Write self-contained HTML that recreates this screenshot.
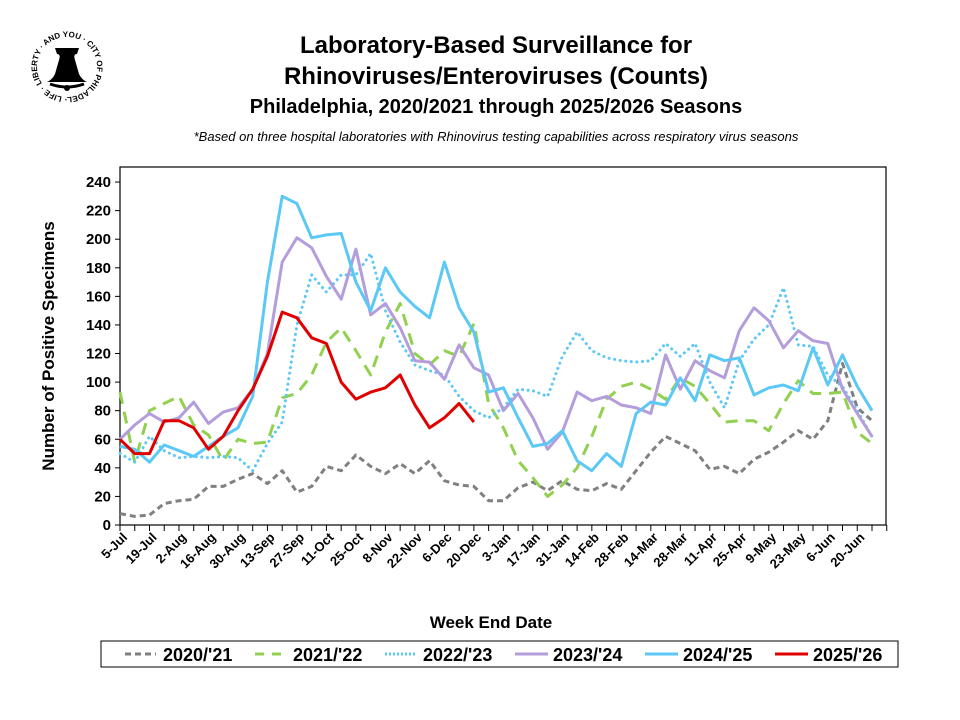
<!DOCTYPE html>
<html><head><meta charset="utf-8"><style>body{margin:0;background:#fff}svg{display:block}</style></head><body>
<svg width="960" height="720" viewBox="0 0 960 720" xmlns="http://www.w3.org/2000/svg" font-family="Liberation Sans, Arial, sans-serif">
<rect width="960" height="720" fill="#fff"/>
<!-- logo -->
<defs><path id="lc" d="M67,97 a30,30 0 1,1 0.1,0"/></defs>
<text font-size="8" font-weight="bold" fill="#000"><textPath href="#lc" startOffset="0">· LIFE · LIBERTY · AND YOU · CITY OF PHILADELPHIA</textPath></text>
<path d="M55,48 h24 l-2,6 q-4,0 -2,6 l4,14 q3,6 8,8 h-40 q5,-2 8,-8 l4,-14 q2,-6 -2,-6z" fill="#000"/>
<path d="M50,84 q17,6 34,0" stroke="#000" stroke-width="3" fill="none"/>
<circle cx="67" cy="88" r="3" fill="#000"/>
<!-- titles -->
<g font-weight="bold" text-anchor="middle" fill="#000">
<text x="496" y="53" font-size="24">Laboratory-Based Surveillance for</text>
<text x="496" y="84" font-size="24">Rhinoviruses/Enteroviruses (Counts)</text>
<text x="496" y="113" font-size="20">Philadelphia, 2020/2021 through 2025/2026 Seasons</text>
</g>
<text x="496" y="141" font-size="13" font-style="italic" text-anchor="middle">*Based on three hospital laboratories with Rhinovirus testing capabilities across respiratory virus seasons</text>
<!-- plot frame -->
<rect x="120" y="167" width="766" height="358" fill="none" stroke="#000" stroke-width="1.2"/>
<g id="yt" font-size="15" font-weight="bold" text-anchor="end"></g>
<g id="xt" font-size="13" font-weight="bold"></g>
<g id="series" fill="none" stroke-width="3" stroke-linejoin="round"></g>
<text x="0" y="0" transform="translate(54,346) rotate(-90)" font-size="17" font-weight="bold" text-anchor="middle">Number of Positive Specimens</text>
<text x="491" y="628" font-size="17" font-weight="bold" text-anchor="middle">Week End Date</text>
<!-- legend -->
<rect x="101" y="641" width="797" height="26" fill="#fff" stroke="#000" stroke-width="1"/>
<g font-size="18" font-weight="bold" stroke-width="3">
<line x1="125" y1="654" x2="156" y2="654" stroke="#808080" stroke-dasharray="6,4"/><text x="163" y="661">2020/'21</text>
<line x1="255" y1="654" x2="286" y2="654" stroke="#92d050" stroke-dasharray="9,8"/><text x="293" y="661">2021/'22</text>
<line x1="385" y1="654" x2="417" y2="654" stroke="#5bc8f5" stroke-dasharray="2,2"/><text x="423" y="661">2022/'23</text>
<line x1="515" y1="654" x2="548" y2="654" stroke="#b39ddb"/><text x="553" y="661">2023/'24</text>
<line x1="645" y1="654" x2="678" y2="654" stroke="#5bc8f5"/><text x="683" y="661">2024/'25</text>
<line x1="775" y1="654" x2="808" y2="654" stroke="#e00000"/><text x="813" y="661">2025/'26</text>
</g>
<script>
var ns="http://www.w3.org/2000/svg";
function X(i){return 120+i*14.745;}function Y(v){return 525-v*1.429;}
var yt=document.getElementById('yt');
for(var v=0;v<=240;v+=20){var t=document.createElementNS(ns,'text');t.setAttribute('x',111);t.setAttribute('y',Y(v)+5);t.textContent=v;yt.appendChild(t);
var l=document.createElementNS(ns,'line');l.setAttribute('x1',115);l.setAttribute('x2',120);l.setAttribute('y1',Y(v));l.setAttribute('y2',Y(v));l.setAttribute('stroke','#000');yt.appendChild(l);}
var labs=["5-Jul","19-Jul","2-Aug","16-Aug","30-Aug","13-Sep","27-Sep","11-Oct","25-Oct","8-Nov","22-Nov","6-Dec","20-Dec","3-Jan","17-Jan","31-Jan","14-Feb","28-Feb","14-Mar","28-Mar","11-Apr","25-Apr","9-May","23-May","6-Jun","20-Jun"];
var xt=document.getElementById('xt');
for(var i=0;i<=52;i++){var l=document.createElementNS(ns,'line');l.setAttribute('x1',X(i));l.setAttribute('x2',X(i));l.setAttribute('y1',525);l.setAttribute('y2',531);l.setAttribute('stroke','#000');xt.appendChild(l);}
labs.forEach(function(s,k){var x=X(2*k)+1,y=531;var t=document.createElementNS(ns,'text');t.setAttribute('text-anchor','end');t.setAttribute('transform','translate('+x+','+y+') rotate(-45)');t.setAttribute('x',0);t.setAttribute('y',10);t.textContent=s;xt.appendChild(t);});
var S=[
["#808080","6,4","butt",[8,6,7,15,17,18,27,27,32,36,29,38,23,27,41,38,49,41,36,43,36,45,31,28,27,17,17,26,30,24,31,25,24,29,25,38,51,62,57,52,39,41,36,46,51,58,66,60,73,113,82,73]],
["#92d050","12,8","butt",[93,44,80,85,90,70,63,45,60,57,58,89,92,105,128,138,122,105,135,155,120,112,122,118,141,85,68,45,33,20,28,40,62,88,97,100,95,88,103,97,85,72,73,73,66,85,101,92,92,93,65,57]],
["#5bc8f5","0.1,5.5","round",[50,44,62,52,47,48,47,48,47,38,57,72,140,175,163,175,175,190,150,128,112,108,105,90,80,75,82,95,94,90,118,135,122,117,115,114,115,127,118,127,100,82,115,130,140,166,126,125,105,97,80,62]],
["#b39ddb",null,"butt",[60,70,78,72,75,86,71,79,82,95,120,184,201,194,174,158,193,147,155,138,115,114,102,126,110,105,80,92,75,53,65,93,87,90,84,82,78,119,95,115,108,103,136,152,143,124,136,129,127,95,78,62]],
["#5bc8f5",null,"butt",[55,53,44,56,52,48,55,62,68,90,170,230,225,201,203,204,170,150,180,163,153,145,184,152,135,93,96,75,55,57,66,45,38,50,41,78,86,84,103,87,119,115,117,91,96,98,94,124,98,119,97,80]],
["#e00000",null,"butt",[60,50,50,73,73,68,53,62,80,95,118,149,145,131,127,100,88,93,96,105,84,68,75,85,72]]];
var g=document.getElementById('series');
S.forEach(function(s){var p=document.createElementNS(ns,'polyline');p.setAttribute('points',s[3].map(function(v,i){return X(i).toFixed(1)+','+Y(v).toFixed(1)}).join(' '));p.setAttribute('stroke',s[0]);if(s[1])p.setAttribute('stroke-dasharray',s[1]);p.setAttribute('stroke-linecap',s[2]);g.appendChild(p);});
</script>
</svg>
</body></html>
